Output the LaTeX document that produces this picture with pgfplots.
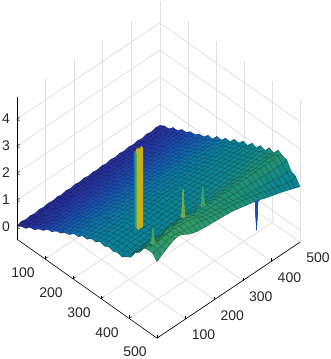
\documentclass[border=0pt]{standalone}
\usepackage{pgfplots}
\pgfplotsset{compat=1.18}
\usepackage{fontspec}
\setmainfont{Liberation Sans}
\begin{document}
\begin{tikzpicture}
\path[use as bounding box] (0,0) rectangle (330pt,359pt);
\begin{axis}[
  at={(17pt,132pt)}, anchor=origin,
  x={(0.28pt,-0.198pt)}, y={(0.286pt,0.192pt)}, z={(0pt,27pt)},
  xmin=0,xmax=500,ymin=0,ymax=500,zmin=-0.45,zmax=4.8,
  xtick={100,200,300,400,500}, ytick={100,200,300,400,500}, ztick={0,1,2,3,4},
  /pgf/number format/assume math mode=true,
  tick label style={font=\fontsize{14}{14}\selectfont, text=black!85, inner sep=0pt},
  axis x line*=bottom, axis y line*=left, axis z line*=left,
  axis line style={-,black,line width=0.6pt},
  grid=major, major grid style={black!12,line width=0.8pt},
  major tick length=3pt, tick style={black,line width=0.5pt},
  xticklabel style={anchor=center,xshift=-22pt,yshift=-14pt},
  yticklabel style={anchor=center,xshift=18pt,yshift=-16pt},
  zticklabel style={anchor=east,xshift=-7pt},
  colormap={ref}{
    rgb255(0)=(36,38,140) rgb255(4)=(36,52,165) rgb255(8)=(25,80,175)
    rgb255(12)=(15,110,175) rgb255(16)=(10,128,155) rgb255(20)=(15,135,140)
    rgb255(24)=(35,148,112) rgb255(28)=(55,158,100) rgb255(33)=(120,170,70)
    rgb255(38)=(185,170,30) rgb255(44)=(225,190,25)},
  point meta min=0, point meta max=4.4,
  clip=false,
]
% downward spike, under the surface
\addplot3[surf,shader=flat,mesh/rows=3,mesh/cols=3,point meta=explicit]
 table[x=x,y=y,z=z,meta=m]{
x y z m
490 348 2.1 0.8
495 348 2.1 0.8
500 348 2.1 0.8
490 353 2.1 0.8
495 353 1.0 0.8
500 353 2.1 0.8
490 358 2.1 0.8
495 358 2.1 0.8
500 358 2.1 0.8
};
% main surface
\addplot3[surf,shader=faceted,faceted color=mapped color!60!black,line width=0.25pt,
  mesh/rows=33,mesh/cols=33]
 table[x expr={mod(\coordindex,33)*15.625},y expr={floor((\coordindex+0.5)/33)*15.625},z=z]{
z
0.03
0.14
0.18
0.33
0.36
0.5
0.56
0.71
0.74
0.88
0.92
1.05
1.09
1.25
1.25
1.39
1.38
1.52
1.51
1.63
1.58
1.67
1.62
1.69
1.64
1.76
1.86
2.14
2.27
2.54
2.59
2.58
2.38
0.1
0.11
0.23
0.29
0.41
0.46
0.6
0.66
0.79
0.83
0.97
1.0
1.14
1.2
1.3
1.33
1.45
1.47
1.57
1.59
1.65
1.63
1.71
1.65
1.73
1.73
1.95
2.09
2.34
2.49
2.66
2.6
2.5
0.06
0.16
0.19
0.34
0.38
0.51
0.57
0.7
0.75
0.87
0.94
1.04
1.11
1.24
1.27
1.37
1.41
1.5
1.54
1.62
1.65
1.66
1.69
1.71
1.69
1.78
1.92
2.12
2.33
2.47
2.64
2.62
2.6
0.09
0.12
0.24
0.3
0.42
0.47
0.61
0.66
0.78
0.84
0.96
1.01
1.13
1.19
1.31
1.34
1.45
1.46
1.58
1.6
1.67
1.68
1.7
1.75
1.74
1.8
1.97
2.11
2.35
2.48
2.68
2.68
2.7
0.06
0.17
0.2
0.35
0.38
0.52
0.58
0.7
0.75
0.88
0.93
1.06
1.1
1.25
1.26
1.38
1.42
1.49
1.56
1.62
1.66
1.68
1.71
1.72
1.77
1.78
1.99
2.13
2.32
2.54
2.71
2.74
2.78
0.1
0.13
0.25
0.31
0.43
0.48
0.6
0.67
0.79
0.83
0.97
1.0
1.14
1.19
1.31
1.33
1.46
1.48
1.57
1.62
1.64
1.71
1.69
1.76
1.74
1.83
1.94
2.16
2.3
2.5
2.72
2.72
2.8
0.07
0.18
0.21
0.35
0.39
0.53
0.58
0.71
0.74
0.89
0.93
1.06
1.09
1.26
1.26
1.39
1.41
1.52
1.55
1.66
1.63
1.72
1.7
1.74
1.78
1.8
1.98
2.12
2.45
2.57
2.72
2.68
2.72
0.11
0.14
0.26
0.31
0.44
0.48
0.62
0.66
0.8
0.83
0.96
1.02
1.12
1.2
1.31
1.34
1.45
1.47
1.59
1.61
1.67
1.69
1.75
1.73
1.78
1.84
1.95
2.27
2.43
2.62
2.7
2.65
2.62
0.08
0.18
0.22
0.36
0.4
0.53
0.58
0.72
0.75
0.89
0.93
1.06
1.1
1.25
1.27
1.4
1.42
1.53
1.56
1.67
1.65
1.73
1.71
1.78
1.77
1.86
1.96
2.28
2.44
2.6
2.69
2.62
2.55
0.12
0.15
0.27
0.32
0.44
0.49
0.62
0.67
0.8
0.84
0.97
1.01
1.14
1.19
1.32
1.34
1.47
1.49
1.6
1.62
1.7
1.7
1.76
1.74
1.83
1.84
2.01
2.26
2.48
2.58
2.66
2.6
2.5
0.09
0.19
0.22
0.37
0.41
0.53
0.59
0.72
0.76
0.88
0.94
1.06
1.1
1.24
1.28
1.4
1.42
1.54
1.57
1.68
1.66
1.74
1.73
1.8
1.8
1.88
1.98
2.28
2.44
2.58
2.64
2.58
2.48
0.13
0.16
0.28
0.33
0.45
0.49
0.63
0.67
0.8
0.84
0.97
1.01
1.14
1.2
1.32
1.35
1.48
1.5
1.61
1.64
1.71
1.72
1.78
1.78
1.84
1.88
2.04
2.25
2.46
2.52
2.58
2.54
2.46
0.1
0.2
0.23
0.37
0.41
0.54
0.59
0.73
0.76
0.89
0.93
1.07
1.1
1.25
1.28
1.41
1.43
1.55
1.58
1.69
1.69
1.76
1.77
1.81
1.84
1.9
2.01
2.22
2.3
2.42
2.47
2.51
2.45
0.14
0.17
0.29
0.33
0.46
0.5
0.63
0.68
0.81
0.84
0.98
1.01
1.15
1.2
1.33
1.35
1.47
1.51
1.6
1.66
1.69
1.75
1.79
1.8
1.88
1.9
2.06
2.18
2.35
2.4
2.44
2.48
2.44
0.11
0.21
0.24
0.38
0.42
0.55
0.6
0.73
0.77
0.89
0.94
1.06
1.11
1.25
1.29
1.41
1.44
1.56
1.6
1.7
1.7
1.78
1.78
1.84
1.86
1.94
2.03
2.23
2.31
2.39
2.42
2.45
2.42
0.15
0.18
0.3
0.34
0.47
0.5
0.64
0.68
0.81
0.85
0.98
1.02
1.15
1.21
1.33
1.36
1.48
1.5
1.62
1.66
1.73
1.75
1.82
1.83
1.9
1.92
2.08
2.19
2.35
2.37
2.4
2.43
2.41
0.11
0.21
0.25
0.38
0.42
0.55
0.59
0.73
0.76
0.89
0.93
1.06
1.1
1.25
1.28
1.41
1.44
1.56
1.59
1.71
1.7
1.79
1.79
1.87
1.87
1.96
2.05
2.23
2.31
2.38
2.36
2.42
2.39
0.15
0.18
0.3
0.34
0.47
0.51
0.64
0.69
0.81
0.85
0.98
1.02
1.15
1.21
1.33
1.37
1.48
1.52
1.61
1.69
1.71
1.79
1.81
1.86
1.9
1.95
2.09
2.19
2.36
2.34
2.38
2.39
2.37
0.12
0.22
0.26
0.39
0.43
0.55
0.6
0.74
0.77
0.9
0.94
1.07
1.11
1.25
1.29
1.42
1.44
1.58
1.59
1.72
1.73
1.78
1.83
1.86
1.92
1.97
2.07
2.24
2.31
2.35
2.31
2.38
2.33
0.16
0.19
0.31
0.35
0.48
0.51
0.65
0.69
0.82
0.85
0.99
1.02
1.16
1.21
1.34
1.37
1.49
1.52
1.64
1.69
1.75
1.8
1.84
1.88
1.93
1.99
2.12
2.21
2.36
2.31
2.3
2.34
2.29
0.13
0.23
0.27
0.39
0.44
0.56
0.61
0.74
0.77
0.9
0.94
1.07
1.11
1.26
1.3
1.42
1.45
1.58
1.62
1.72
1.75
1.82
1.84
1.91
1.95
2.0
2.1
2.25
2.32
2.32
2.26
2.31
2.25
0.17
0.2
0.32
0.36
0.48
0.52
0.65
0.69
0.82
0.86
0.99
1.03
1.16
1.21
1.34
1.37
1.5
1.53
1.64
1.7
1.76
1.83
1.87
1.92
1.97
2.02
2.14
2.22
2.37
2.28
2.24
2.26
2.21
0.14
0.24
0.28
0.4
0.44
0.57
0.61
0.74
0.78
0.9
0.95
1.08
1.12
1.26
1.3
1.43
1.46
1.58
1.63
1.73
1.76
1.84
1.88
1.95
1.98
2.05
2.12
2.27
2.34
2.3
2.18
2.22
2.17
0.18
0.21
0.33
0.37
0.49
0.52
0.66
0.69
0.83
0.86
1.0
1.03
1.16
1.22
1.35
1.38
1.5
1.53
1.66
1.7
1.79
1.82
1.9
1.94
2.02
2.05
2.17
2.24
2.37
2.26
2.19
2.16
2.12
0.15
0.25
0.29
0.41
0.45
0.58
0.61
0.75
0.78
0.91
0.95
1.08
1.12
1.26
1.31
1.43
1.46
1.59
1.63
1.74
1.76
1.86
1.87
1.97
2.0
2.08
2.14
2.29
2.35
2.29
2.15
2.14
2.06
0.19
0.22
0.34
0.37
0.5
0.53
0.66
0.7
0.83
0.86
1.0
1.03
1.17
1.22
1.35
1.38
1.51
1.55
1.66
1.72
1.79
1.86
1.91
1.97
2.03
2.09
2.19
2.27
2.37
2.24
2.12
2.08
2.0
0.16
0.26
0.29
0.42
0.46
0.58
0.62
0.75
0.79
0.91
0.96
1.08
1.13
1.26
1.31
1.44
1.47
1.6
1.64
1.74
1.78
1.86
1.9
1.98
2.03
2.1
2.17
2.29
2.36
2.26
2.09
2.03
1.95
0.2
0.23
0.35
0.38
0.51
0.54
0.66
0.7
0.83
0.87
1.0
1.04
1.17
1.23
1.36
1.39
1.51
1.55
1.68
1.72
1.8
1.86
1.93
1.98
2.06
2.1
2.21
2.27
2.39
2.23
2.08
1.98
1.9
0.17
0.27
0.3
0.42
0.47
0.59
0.63
0.75
0.79
0.91
0.96
1.09
1.13
1.27
1.32
1.45
1.48
1.6
1.65
1.75
1.79
1.88
1.92
2.0
2.05
2.14
2.19
2.31
2.37
2.24
2.05
1.95
1.85
0.22
0.24
0.36
0.39
0.52
0.54
0.67
0.7
0.84
0.87
1.0
1.03
1.17
1.22
1.36
1.39
1.52
1.56
1.69
1.73
1.81
1.87
1.95
2.0
2.08
2.13
2.22
2.29
2.38
2.2
2.04
1.88
1.79
0.18
0.28
0.31
0.43
0.47
0.59
0.63
0.76
0.79
0.92
0.96
1.08
1.14
1.27
1.32
1.45
1.48
1.62
1.65
1.77
1.8
1.9
1.93
2.03
2.07
2.17
2.2
2.33
2.36
2.23
1.99
1.87
1.73
0.23
0.25
0.37
0.4
0.53
0.55
0.68
0.7
0.84
0.86
1.01
1.03
1.18
1.22
1.37
1.39
1.53
1.56
1.7
1.73
1.83
1.87
1.97
2.0
2.11
2.14
2.25
2.29
2.4
2.19
2.03
1.81
1.67
0.21
0.3
0.31
0.47
0.47
0.63
0.64
0.77
0.78
0.92
0.93
1.1
1.08
1.29
1.27
1.45
1.44
1.64
1.62
1.8
1.76
1.95
1.91
2.09
2.03
2.24
2.17
2.38
2.3
2.25
1.94
1.88
1.6
};
% narrow spikes standing on the surface
\addplot3[surf,shader=flat,mesh/rows=3,mesh/cols=3,point meta=explicit]
 table[x=x,y=y,z=z,meta=m]{
x y z m
434 146 2.55 3.3
439 146 2.55 3.3
444 146 2.55 3.3
434 151 2.55 3.3
439 151 3.55 3.3
444 151 2.55 3.3
434 156 2.55 3.3
439 156 2.55 3.3
444 156 2.55 3.3
};
\addplot3[surf,shader=flat,mesh/rows=3,mesh/cols=3,point meta=explicit]
 table[x=x,y=y,z=z,meta=m]{
x y z m
435 212 2.5 2.9
441 212 2.5 2.9
447 212 2.5 2.9
435 218 2.5 2.9
441 218 3.15 2.9
447 218 2.5 2.9
435 224 2.5 2.9
441 224 2.5 2.9
447 224 2.5 2.9
};
\addplot3[surf,shader=flat,mesh/rows=3,mesh/cols=3,point meta=explicit]
 table[x=x,y=y,z=z,meta=m]{
x y z m
440 35 2.4 3.0
445 35 2.4 3.0
450 35 2.4 3.0
440 40 2.4 3.0
445 40 2.93 3.0
450 40 2.4 3.0
440 45 2.4 3.0
445 45 2.4 3.0
450 45 2.4 3.0
};
% tall spike
\addplot3[surf,shader=flat,mesh/rows=6,mesh/cols=6,point meta=explicit]
 table[x=x,y=y,z=z,meta=m]{
x y z m
300 116 1.4 1.7
300 116 1.4 1.7
305 116 1.4 1.7
310 116 1.4 4.0
315 116 1.4 4.0
315 116 1.4 4.0
300 116 1.4 1.7
300 116 4.15 1.7
305 116 4.2 1.7
310 116 4.0 4.0
315 116 4.4 4.0
315 116 1.4 4.0
300 121 1.4 4.0
300 121 4.1 4.0
305 121 4.0 4.0
310 121 4.3 4.0
315 121 4.0 4.0
315 121 1.4 4.0
300 126 1.4 4.0
300 126 4.2 4.0
305 126 4.1 4.0
310 126 4.2 4.0
315 126 4.4 4.0
315 126 1.4 4.0
300 131 1.4 4.0
300 131 4.0 4.0
305 131 4.2 4.0
310 131 4.1 4.0
315 131 4.3 4.0
315 131 1.4 4.0
300 131 1.4 4.0
300 131 1.4 4.0
305 131 1.4 4.0
310 131 1.4 4.0
315 131 1.4 4.0
315 131 1.4 4.0
};
\end{axis}
\end{tikzpicture}
\end{document}
